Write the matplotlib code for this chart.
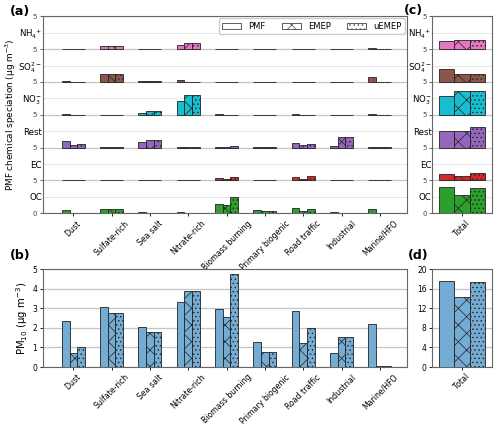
import matplotlib
matplotlib.use("Agg")
import matplotlib.pyplot as plt
from matplotlib.patches import Patch
import numpy as np

categories = ['Dust', 'Sulfate-rich', 'Sea salt', 'Nitrate-rich', 'Biomass burning',
              'Primary biogenic', 'Road traffic', 'Industrial', 'Marine/HFO']
models = ['PMF', 'EMEP', 'uEMEP']
species = ['OC', 'EC', 'Rest', 'NO$_3^{-}$', 'SO$_4^{2-}$', 'NH$_4$$^{+}$']
species_colors = ['#2ca02c', '#d62728', '#9467bd', '#17becf', '#8c564b', '#e377c2']

oc_pmf = [0.46, 0.61, 0.12, 0.12, 1.42, 0.51, 0.76, 0.12, 0.61]
oc_emep = [0.02, 0.61, 0.04, 0.02, 1.27, 0.41, 0.41, 0.04, 0.03]
oc_uemep = [0.02, 0.61, 0.04, 0.02, 2.44, 0.41, 0.61, 0.04, 0.03]
ec_pmf = [0.08, 0.05, 0.05, 0.02, 0.30, 0.05, 0.46, 0.02, 0.10]
ec_emep = [0.02, 0.03, 0.02, 0.01, 0.25, 0.02, 0.25, 0.02, 0.02]
ec_uemep = [0.02, 0.03, 0.02, 0.01, 0.51, 0.02, 0.66, 0.02, 0.02]
rest_pmf = [1.01, 0.10, 0.81, 0.03, 0.10, 0.03, 0.66, 0.25, 0.15]
rest_emep = [0.36, 0.02, 1.22, 0.02, 0.10, 0.03, 0.36, 1.62, 0.05]
rest_uemep = [0.56, 0.02, 1.22, 0.02, 0.25, 0.03, 0.61, 1.62, 0.05]
no3_pmf = [0.05, 0.03, 0.30, 2.03, 0.10, 0.03, 0.10, 0.03, 0.05]
no3_emep = [0.02, 0.02, 0.50, 2.94, 0.02, 0.02, 0.02, 0.02, 0.02]
no3_uemep = [0.02, 0.02, 0.50, 2.94, 0.02, 0.02, 0.02, 0.02, 0.02]
so4_pmf = [0.10, 1.22, 0.10, 0.30, 0.05, 0.05, 0.05, 0.05, 0.76]
so4_emep = [0.02, 1.22, 0.08, 0.02, 0.02, 0.02, 0.02, 0.02, 0.03]
so4_uemep = [0.02, 1.22, 0.08, 0.02, 0.02, 0.02, 0.02, 0.02, 0.03]
nh4_pmf = [0.05, 0.46, 0.05, 0.60, 0.05, 0.03, 0.03, 0.03, 0.10]
nh4_emep = [0.02, 0.40, 0.02, 0.96, 0.02, 0.02, 0.02, 0.02, 0.02]
nh4_uemep = [0.02, 0.40, 0.02, 0.96, 0.02, 0.02, 0.02, 0.02, 0.02]

# totals per species: PMF, EMEP, uEMEP
oc_total = [3.96, 2.74, 3.91]
ec_total = [1.01, 0.61, 1.12]
rest_total = [2.49, 2.59, 3.10]
no3_total = [2.79, 3.55, 3.55]
so4_total = [1.93, 1.27, 1.27]
nh4_total = [1.17, 1.37, 1.37]

pm10_pmf = [2.33, 3.06, 2.02, 3.30, 2.96, 1.26, 2.86, 0.73, 2.18]
pm10_emep = [0.71, 2.74, 1.80, 3.86, 2.57, 0.75, 1.21, 1.51, 0.05]
pm10_uemep = [1.02, 2.74, 1.80, 3.86, 4.73, 0.75, 2.01, 1.51, 0.05]
pm10_total = [17.55, 14.2, 17.4]

species_data = [
    (oc_pmf, oc_emep, oc_uemep, oc_total),
    (ec_pmf, ec_emep, ec_uemep, ec_total),
    (rest_pmf, rest_emep, rest_uemep, rest_total),
    (no3_pmf, no3_emep, no3_uemep, no3_total),
    (so4_pmf, so4_emep, so4_uemep, so4_total),
    (nh4_pmf, nh4_emep, nh4_uemep, nh4_total),
]

plt.rcParams['hatch.linewidth'] = 0.5
plt.rcParams['font.family'] = ['DejaVu Sans']
hatches = ['', 'xx', '....']
edge = '#222222'
pm_color = '#74acd4'
seg = 5.0

fig = plt.figure(figsize=(5.0, 4.24), dpi=100)
ax_a = fig.add_axes([0.0854, 0.497, 0.728, 0.4646])
ax_c = fig.add_axes([0.8646, 0.497, 0.1188, 0.4646])
ax_b = fig.add_axes([0.0854, 0.1344, 0.728, 0.2311])
ax_d = fig.add_axes([0.8646, 0.1344, 0.1188, 0.2311])

x = np.arange(len(categories))
w = 0.2
wt = 0.26

for i, (p, e, u, t) in enumerate(species_data):
    base = i * seg
    for j, vals in enumerate([p, e, u]):
        ax_a.bar(x + (j - 1) * w, vals, width=w, bottom=base, color=species_colors[i],
                 edgecolor=edge, linewidth=0.6, hatch=hatches[j], zorder=3)
        ax_c.bar([(j - 1) * wt], [t[j]], width=wt, bottom=base, color=species_colors[i],
                 edgecolor=edge, linewidth=0.6, hatch=hatches[j], zorder=3)

for j, vals in enumerate([pm10_pmf, pm10_emep, pm10_uemep]):
    ax_b.bar(x + (j - 1) * w, vals, width=w, color=pm_color, edgecolor=edge,
             linewidth=0.6, hatch=hatches[j], zorder=3)
    ax_d.bar([(j - 1) * wt], [pm10_total[j]], width=wt, color=pm_color, edgecolor=edge,
             linewidth=0.6, hatch=hatches[j], zorder=3)

major = np.arange(0, 6 * seg + 1, seg)
minor = np.arange(seg / 2, 6 * seg, seg)
major_lbl = ['0'] + ['5'] * 6
for ax in (ax_a, ax_c):
    ax.set_ylim(0, 6 * seg)
    ax.set_yticks(major)
    ax.set_yticklabels(major_lbl, fontsize=5)
    ax.set_yticks(minor, minor=True)
    ax.set_yticklabels(species, minor=True, fontsize=6.2)
    ax.tick_params(axis='y', which='minor', length=0, pad=0.5)
    ax.tick_params(axis='y', which='major', length=2.5, width=0.6, pad=1.5, colors='#444444')
    ax.grid(axis='y', which='major', color='#c4c4c4', linewidth=0.9, zorder=0)
    ax.grid(axis='y', which='minor', color='#e6e6e6', linewidth=0.7, zorder=0)
    ax.set_axisbelow(True)

ax_a.set_xlim(-0.8, 8.7)
ax_b.set_xlim(-0.8, 8.7)
for ax in (ax_a, ax_b):
    ax.set_xticks(x)
    ax.set_xticklabels(categories, rotation=45, ha='center', fontsize=5.6)
for ax in (ax_c, ax_d):
    ax.set_xlim(-0.5, 0.5)
    ax.set_xticks([0])
    ax.set_xticklabels(['Total'], rotation=45, ha='center', fontsize=5.6)

ax_b.set_ylim(0, 5)
ax_b.set_yticks(np.arange(0, 6, 1))
ax_d.set_ylim(0, 20)
ax_d.set_yticks(np.arange(0, 21, 4))
for ax in (ax_b, ax_d):
    ax.tick_params(axis='y', labelsize=5.5, length=2.5, width=0.6, pad=1.5)
    ax.grid(axis='y', color='#c4c4c4', linewidth=0.9, zorder=0)
    ax.set_axisbelow(True)

for ax in (ax_a, ax_b, ax_c, ax_d):
    ax.tick_params(axis='x', length=2.5, width=0.6, pad=1.5)
    for s in ax.spines.values():
        s.set_color('#666666')
        s.set_linewidth(0.8)

ax_a.set_ylabel('PMF chemical speciation (µg m$^{-3}$)', fontsize=6.4)
ax_a.yaxis.set_label_coords(-0.068, 0.5)
ax_b.set_ylabel('PM$_{10}$ (µg m$^{-3}$)', fontsize=7.3)
ax_b.yaxis.set_label_coords(-0.035, 0.5)

handles = [Patch(facecolor='white', edgecolor='#444444', linewidth=0.6, hatch=h) for h in hatches]
ax_a.legend(handles, models, loc='upper right', ncol=3, fontsize=6, frameon=True,
            bbox_to_anchor=(1.0, 1.0), borderaxespad=0.25, handlelength=2.3,
            columnspacing=2.0, handletextpad=0.8, framealpha=1, edgecolor='#cccccc',
            fancybox=True)

fig.text(0.02, 0.972, '(a)', fontsize=9, fontweight='bold', va='center')
fig.text(0.02, 0.397, '(b)', fontsize=9, fontweight='bold', va='center')
fig.text(0.808, 0.975, '(c)', fontsize=9, fontweight='bold', va='center')
fig.text(0.815, 0.397, '(d)', fontsize=9, fontweight='bold', va='center')

fig.savefig('out.png', dpi=100)
